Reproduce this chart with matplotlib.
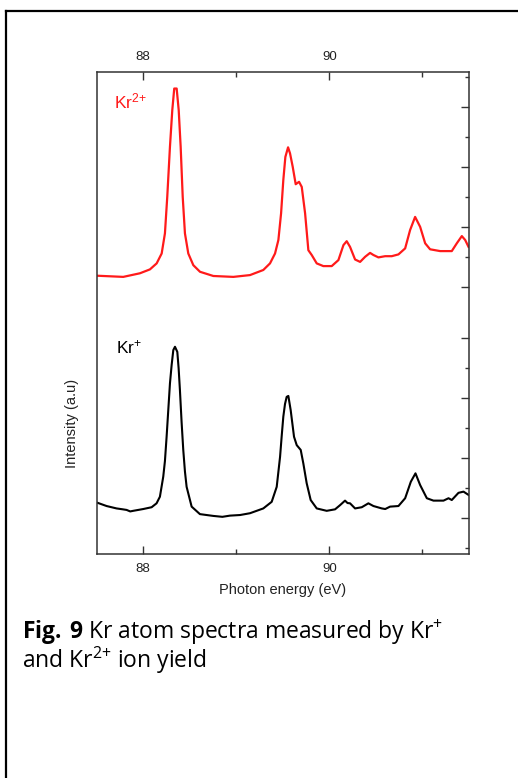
import matplotlib
matplotlib.use("Agg")
import matplotlib.pyplot as plt
from matplotlib.lines import Line2D

plt.rcParams['font.family'] = ['Liberation Sans', 'DejaVu Sans']
plt.rcParams['mathtext.default'] = 'regular'
plt.rcParams['mathtext.fontset'] = 'custom'
plt.rcParams['mathtext.rm'] = 'Open Sans'
plt.rcParams['mathtext.bf'] = 'Open Sans:bold'

# ---- data (photon energy in eV, intensity in arbitrary units) ----
kr2_energy = [87.498, 87.785, 87.964, 88.072, 88.144, 88.198, 88.233, 88.258, 88.287, 88.312,
              88.333, 88.359, 88.381, 88.402, 88.424, 88.448, 88.484, 88.538, 88.610, 88.753,
              88.968, 89.147, 89.290, 89.362, 89.416, 89.452, 89.481, 89.505, 89.527, 89.556,
              89.577, 89.606, 89.638, 89.674, 89.703, 89.739, 89.774,
              89.810, 89.864, 89.935, 90.025, 90.097, 90.151, 90.186, 90.222, 90.276, 90.330,
              90.384, 90.437, 90.473, 90.527, 90.599, 90.670, 90.742, 90.814, 90.867, 90.921,
              90.975, 91.029, 91.082, 91.190, 91.315, 91.369, 91.423, 91.459, 91.495]
kr2_intensity = [9.28, 9.24, 9.36, 9.49, 9.69, 10.02, 10.69, 11.91, 13.58, 14.80,
                 15.52, 15.52, 14.80, 13.58, 11.91, 10.69, 10.02, 9.63, 9.41, 9.27,
                 9.24, 9.30, 9.47, 9.69, 10.02, 10.47, 11.36, 12.47, 13.24, 13.56,
                 13.36, 12.91, 12.33, 12.41, 12.24, 11.36, 10.13,
                 9.97, 9.69, 9.60, 9.60, 9.80, 10.30, 10.43, 10.24, 9.82, 9.74,
                 9.91, 10.04, 9.97, 9.89, 9.93, 9.93, 9.99, 10.19, 10.80, 11.24,
                 10.91, 10.36, 10.16, 10.10, 10.10, 10.36, 10.60, 10.47, 10.24]

kr1_energy = [87.498, 87.606, 87.713, 87.780, 87.821, 87.860, 87.892, 88.000, 88.090, 88.143,
              88.179, 88.215, 88.233, 88.251, 88.270, 88.287, 88.305, 88.323, 88.341, 88.366,
              88.380, 88.394, 88.412, 88.430, 88.448, 88.466, 88.520, 88.609,
              88.753, 88.850, 88.932, 89.040, 89.147, 89.290, 89.380, 89.434, 89.470, 89.488,
              89.505, 89.523, 89.541, 89.559,
              89.584, 89.620, 89.649, 89.692, 89.720, 89.756, 89.799, 89.864, 89.971, 90.061,
              90.115, 90.168, 90.195, 90.222, 90.276, 90.348, 90.419, 90.473, 90.563, 90.600,
              90.652, 90.742, 90.814, 90.875, 90.925, 90.975, 91.047, 91.118, 91.226, 91.280,
              91.315, 91.387, 91.441, 91.495]
kr1_intensity = [1.72, 1.60, 1.52, 1.49, 1.47, 1.42, 1.44, 1.50, 1.56, 1.69,
                 1.91, 2.58, 3.10, 3.91, 4.85, 5.69, 6.30, 6.80, 6.91, 6.74,
                 6.20, 5.47, 4.40, 3.47, 2.75, 2.24, 1.58, 1.33,
                 1.27, 1.24, 1.28, 1.30, 1.36, 1.52, 1.74, 2.24, 3.24, 3.95,
                 4.58, 5.00, 5.24, 5.27,
                 4.80, 3.91, 3.63, 3.47, 3.02, 2.36, 1.80, 1.52, 1.44, 1.49,
                 1.63, 1.78, 1.70, 1.69, 1.52, 1.56, 1.69, 1.60, 1.52, 1.50,
                 1.58, 1.60, 1.86, 2.41, 2.69, 2.30, 1.86, 1.78, 1.78, 1.86,
                 1.80, 2.04, 2.08, 1.97]

xlim = (87.5, 91.5)
ylim = (0.0, 16.07)
x_major = [88, 90]
x_major_labels = ['88', '90']
x_minor = [89, 91]
right_major = [14.89, 12.90, 10.91, 8.91, 7.21, 5.21, 3.20, 1.19]
right_minor = [15.91, 13.90, 11.91, 9.91, 6.21, 4.21, 2.19, 0.19]

fig = plt.figure(figsize=(5.18, 7.78), dpi=100)
ax = fig.add_axes([0.1867, 0.2879, 0.7187, 0.6195])

ax.plot(kr2_energy, kr2_intensity, color='#ff1a1a', lw=1.6)
ax.plot(kr1_energy, kr1_intensity, color='black', lw=1.5)

ax.set_xlim(*xlim)
ax.set_ylim(*ylim)

spine_c = '#333333'
for s in ax.spines.values():
    s.set_color(spine_c)
    s.set_linewidth(1.1)

ax.set_xticks(x_major)
ax.set_xticklabels(x_major_labels)
ax.set_xticks(x_minor, minor=True)
ax.tick_params(axis='x', which='both', direction='in', top=True, bottom=True,
               labeltop=True, labelbottom=True, colors=spine_c, labelcolor='#222222',
               labelsize=9.5, pad=6.5)
ax.tick_params(axis='x', which='major', length=6, width=1.0)
ax.tick_params(axis='x', which='minor', length=3.5, width=1.0)

ax.set_yticks(right_major)
ax.set_yticks(right_minor, minor=True)
ax.tick_params(axis='y', which='both', direction='in', left=False, right=True,
               labelleft=False, labelright=False, colors=spine_c)
ax.tick_params(axis='y', which='major', length=6, width=1.0)
ax.tick_params(axis='y', which='minor', length=3, width=1.0)

ax.set_xlabel('Photon energy (eV)', fontsize=10.5, color='#222222', labelpad=6)
ax.set_ylabel('Intensity (a.u)', fontsize=10.5, color='#222222')
ax.yaxis.set_label_coords(-0.048, 0.27)

ax.text(87.69, 15.1, 'Kr$^{2{+}}$', color='#ff1a1a', fontsize=12.5, va='center', ha='left')
ax.text(87.71, 6.9, 'Kr$^{+}$', color='black', fontsize=12.5, va='center', ha='left')

# caption
cap_font = ['Open Sans', 'DejaVu Sans']
cap_size = 16.5
fig.text(22 / 518, 1 - 639 / 778,
         r'$\mathbf{Fig.\,9}$ Kr atom spectra measured by Kr$^{+}$',
         fontsize=cap_size, family=cap_font, va='baseline', ha='left')
fig.text(22 / 518, 1 - 668 / 778, 'and Kr$^{2{+}}$ ion yield', fontsize=cap_size,
         family=cap_font, va='baseline', ha='left')

# table cell frame
fig.add_artist(Line2D([6 / 518, 1.0], [1 - 11 / 778, 1 - 11 / 778],
                      transform=fig.transFigure, color='black', lw=1.6))
fig.add_artist(Line2D([6 / 518, 6 / 518], [0.0, 1 - 11 / 778],
                      transform=fig.transFigure, color='black', lw=1.6))

fig.savefig('out.png', dpi=100)
